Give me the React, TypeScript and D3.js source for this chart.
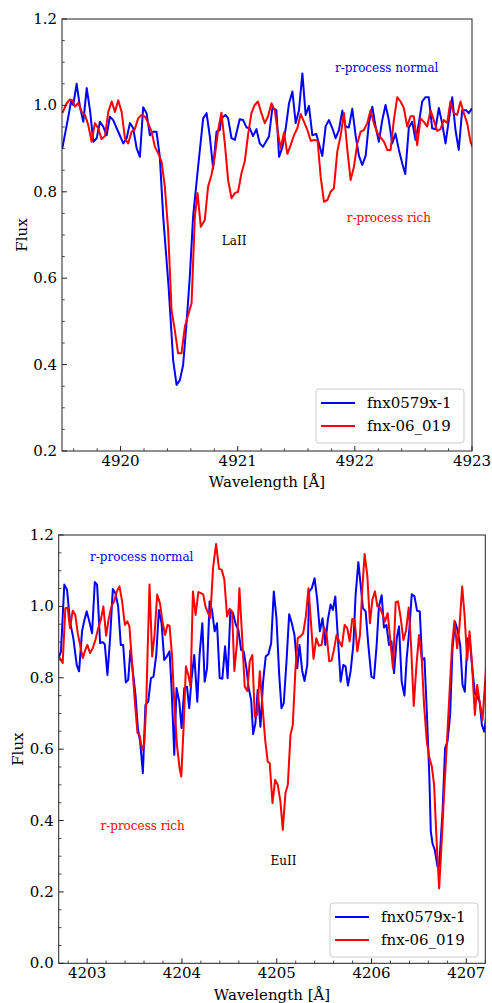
import React from "react";
import * as d3 from "d3";

// ---- La II region (4919.5 - 4923 Å) ----
const laBlueWave = [4919.503, 4919.554, 4919.577, 4919.596, 4919.625, 4919.653, 4919.682, 4919.711, 4919.739, 4919.767, 4919.796, 4919.824, 4919.852, 4919.881, 4919.909, 4919.937, 4919.980, 4920.023, 4920.052, 4920.080, 4920.108, 4920.137, 4920.165, 4920.193, 4920.222, 4920.250, 4920.278, 4920.307, 4920.335, 4920.364, 4920.410, 4920.449, 4920.478, 4920.506, 4920.534, 4920.563, 4920.591, 4920.619, 4920.662, 4920.705, 4920.734, 4920.762, 4920.790, 4920.819, 4920.847, 4920.861, 4920.896, 4920.918, 4920.947, 4920.975, 4921.017, 4921.046, 4921.075, 4921.103, 4921.131, 4921.160, 4921.188, 4921.216, 4921.267, 4921.296, 4921.330, 4921.353, 4921.382, 4921.410, 4921.438, 4921.467, 4921.495, 4921.523, 4921.552, 4921.580, 4921.608, 4921.637, 4921.671, 4921.722, 4921.751, 4921.779, 4921.808, 4921.836, 4921.864, 4921.893, 4921.921, 4921.949, 4921.978, 4922.006, 4922.035, 4922.063, 4922.092, 4922.120, 4922.149, 4922.177, 4922.205, 4922.234, 4922.262, 4922.290, 4922.319, 4922.347, 4922.376, 4922.404, 4922.430, 4922.461, 4922.490, 4922.518, 4922.546, 4922.575, 4922.603, 4922.631, 4922.660, 4922.688, 4922.717, 4922.745, 4922.774, 4922.802, 4922.831, 4922.859, 4922.887, 4922.916, 4922.950, 4922.972, 4923.001];
const laBlueFlux = [0.901, 0.974, 1.009, 1.001, 1.050, 0.997, 0.962, 1.040, 0.989, 0.916, 0.924, 0.962, 0.951, 0.931, 0.974, 0.966, 0.939, 0.912, 0.924, 0.959, 0.947, 0.901, 0.881, 0.996, 0.982, 0.931, 0.939, 0.939, 0.881, 0.742, 0.580, 0.410, 0.353, 0.364, 0.399, 0.496, 0.603, 0.742, 0.858, 0.970, 0.982, 0.928, 0.854, 0.939, 0.943, 0.970, 0.978, 0.970, 0.924, 0.920, 0.968, 0.966, 0.949, 0.947, 0.929, 0.945, 0.912, 0.904, 0.928, 0.994, 0.989, 0.881, 0.904, 0.947, 1.005, 1.032, 0.959, 0.989, 1.074, 0.978, 0.999, 0.931, 0.934, 0.883, 0.952, 0.966, 0.947, 0.924, 0.943, 0.988, 0.951, 0.949, 0.992, 0.931, 0.883, 0.862, 0.883, 0.959, 0.997, 0.951, 0.916, 0.966, 1.001, 0.966, 0.912, 0.935, 0.897, 0.866, 0.841, 0.949, 0.962, 0.920, 0.959, 1.009, 1.019, 1.019, 0.947, 0.945, 0.994, 0.959, 0.912, 0.966, 1.019, 0.943, 0.897, 0.989, 0.989, 0.982, 0.994];

const laRedWave = [4919.503, 4919.540, 4919.568, 4919.588, 4919.611, 4919.639, 4919.668, 4919.696, 4919.724, 4919.753, 4919.781, 4919.809, 4919.838, 4919.867, 4919.895, 4919.924, 4919.952, 4919.980, 4920.009, 4920.037, 4920.065, 4920.094, 4920.122, 4920.150, 4920.179, 4920.208, 4920.236, 4920.265, 4920.293, 4920.321, 4920.350, 4920.378, 4920.406, 4920.435, 4920.463, 4920.491, 4920.520, 4920.549, 4920.577, 4920.606, 4920.634, 4920.657, 4920.685, 4920.719, 4920.747, 4920.776, 4920.804, 4920.833, 4920.861, 4920.890, 4920.918, 4920.947, 4920.975, 4921.003, 4921.032, 4921.060, 4921.088, 4921.117, 4921.145, 4921.173, 4921.202, 4921.231, 4921.259, 4921.288, 4921.316, 4921.344, 4921.367, 4921.395, 4921.424, 4921.452, 4921.480, 4921.509, 4921.538, 4921.566, 4921.595, 4921.623, 4921.657, 4921.682, 4921.708, 4921.736, 4921.765, 4921.793, 4921.821, 4921.850, 4921.879, 4921.907, 4921.936, 4921.964, 4921.992, 4922.021, 4922.049, 4922.077, 4922.106, 4922.134, 4922.162, 4922.191, 4922.220, 4922.248, 4922.277, 4922.305, 4922.333, 4922.362, 4922.390, 4922.418, 4922.447, 4922.475, 4922.503, 4922.532, 4922.561, 4922.589, 4922.618, 4922.646, 4922.674, 4922.703, 4922.731, 4922.759, 4922.788, 4922.816, 4922.844, 4922.873, 4922.902, 4922.930, 4922.959, 4922.987, 4923.010];
const laRedFlux = [0.982, 1.005, 1.014, 1.012, 0.997, 1.006, 0.985, 0.978, 0.955, 0.916, 0.959, 0.947, 0.922, 0.929, 0.985, 1.009, 0.985, 1.012, 0.985, 0.924, 0.912, 0.939, 0.945, 0.970, 0.978, 0.974, 0.959, 0.939, 0.904, 0.889, 0.870, 0.812, 0.712, 0.526, 0.480, 0.426, 0.426, 0.488, 0.515, 0.542, 0.742, 0.797, 0.719, 0.735, 0.812, 0.839, 0.881, 0.943, 0.983, 0.912, 0.827, 0.785, 0.797, 0.800, 0.843, 0.870, 0.931, 0.982, 1.001, 1.009, 0.982, 0.959, 0.975, 1.005, 0.989, 0.935, 0.901, 0.937, 0.888, 0.908, 0.931, 0.947, 0.980, 0.962, 0.943, 0.918, 0.920, 0.918, 0.835, 0.777, 0.781, 0.800, 0.808, 0.893, 0.931, 0.982, 0.897, 0.827, 0.858, 0.912, 0.939, 0.943, 0.959, 0.989, 0.959, 0.937, 0.926, 0.916, 0.897, 0.897, 0.966, 1.019, 1.009, 0.994, 0.951, 0.975, 0.975, 0.908, 0.970, 0.962, 0.951, 0.989, 0.966, 0.941, 0.945, 0.966, 0.959, 1.009, 0.982, 0.978, 1.009, 0.982, 0.959, 0.916, 0.900];

// ---- Eu II region (4202.7 - 4207.2 Å) ----
const euBlueWave = [4202.700, 4202.724, 4202.759, 4202.788, 4202.819, 4202.854, 4202.890, 4202.915, 4202.946, 4202.971, 4202.996, 4203.023, 4203.052, 4203.081, 4203.105, 4203.137, 4203.165, 4203.186, 4203.214, 4203.242, 4203.271, 4203.298, 4203.327, 4203.355, 4203.380, 4203.408, 4203.433, 4203.457, 4203.510, 4203.535, 4203.559, 4203.588, 4203.615, 4203.644, 4203.673, 4203.700, 4203.729, 4203.757, 4203.785, 4203.813, 4203.842, 4203.869, 4203.890, 4203.919, 4203.943, 4203.972, 4203.996, 4204.025, 4204.053, 4204.077, 4204.102, 4204.130, 4204.162, 4204.186, 4204.215, 4204.240, 4204.265, 4204.292, 4204.317, 4204.345, 4204.370, 4204.398, 4204.426, 4204.455, 4204.482, 4204.511, 4204.539, 4204.567, 4204.595, 4204.624, 4204.651, 4204.680, 4204.704, 4204.730, 4204.751, 4204.775, 4204.799, 4204.828, 4204.856, 4204.884, 4204.912, 4204.941, 4204.969, 4204.997, 4205.026, 4205.050, 4205.074, 4205.103, 4205.131, 4205.159, 4205.187, 4205.216, 4205.240, 4205.269, 4205.293, 4205.322, 4205.343, 4205.370, 4205.399, 4205.427, 4205.455, 4205.483, 4205.512, 4205.539, 4205.568, 4205.592, 4205.618, 4205.645, 4205.674, 4205.702, 4205.726, 4205.751, 4205.779, 4205.808, 4205.832, 4205.861, 4205.885, 4205.909, 4205.938, 4205.966, 4205.998, 4206.026, 4206.054, 4206.078, 4206.107, 4206.131, 4206.157, 4206.184, 4206.210, 4206.237, 4206.266, 4206.290, 4206.318, 4206.347, 4206.371, 4206.400, 4206.424, 4206.453, 4206.480, 4206.509, 4206.533, 4206.558, 4206.583, 4206.610, 4206.625, 4206.643, 4206.667, 4206.696, 4206.713, 4206.749, 4206.776, 4206.801, 4206.829, 4206.854, 4206.882, 4206.907, 4206.935, 4206.960, 4206.984, 4207.013, 4207.037, 4207.066, 4207.090, 4207.114, 4207.140, 4207.164, 4207.188, 4207.210];
const euBlueFlux = [0.855, 0.874, 1.061, 1.047, 0.958, 0.911, 0.836, 0.818, 0.930, 0.962, 0.986, 0.958, 0.925, 1.068, 1.061, 0.897, 0.900, 0.894, 0.808, 0.911, 1.049, 1.037, 1.000, 0.892, 0.892, 0.787, 0.794, 0.878, 0.752, 0.659, 0.621, 0.533, 0.724, 0.733, 0.799, 0.803, 0.864, 0.990, 0.953, 0.850, 0.860, 0.874, 0.775, 0.584, 0.771, 0.733, 0.659, 0.771, 0.775, 0.715, 0.799, 0.864, 0.733, 0.864, 0.953, 0.789, 0.827, 1.014, 0.990, 0.930, 0.953, 0.799, 0.797, 0.888, 0.799, 0.986, 0.981, 0.950, 0.934, 0.878, 0.874, 0.827, 0.771, 0.738, 0.642, 0.673, 0.766, 0.663, 0.789, 0.860, 0.866, 0.897, 1.042, 0.967, 0.808, 0.715, 0.729, 0.846, 0.978, 0.953, 0.920, 0.827, 0.892, 0.818, 0.791, 0.836, 1.042, 1.051, 1.079, 1.019, 0.930, 0.967, 0.892, 0.962, 1.005, 0.990, 1.028, 0.911, 0.789, 0.836, 0.832, 0.778, 0.818, 0.892, 1.033, 1.124, 1.061, 0.995, 0.986, 0.892, 0.803, 0.799, 0.892, 1.000, 1.031, 0.941, 0.948, 0.892, 0.902, 0.813, 0.911, 0.944, 0.789, 0.750, 0.855, 0.939, 1.034, 1.028, 0.988, 0.986, 0.850, 0.855, 0.705, 0.520, 0.370, 0.336, 0.318, 0.271, 0.271, 0.425, 0.603, 0.621, 0.696, 0.883, 0.956, 0.934, 0.892, 0.780, 0.761, 0.911, 0.902, 0.818, 0.757, 0.747, 0.733, 0.668, 0.649, 0.691];

const euRedWave = [4202.700, 4202.724, 4202.742, 4202.770, 4202.795, 4202.819, 4202.848, 4202.875, 4202.901, 4202.925, 4202.954, 4202.975, 4203.002, 4203.031, 4203.059, 4203.087, 4203.115, 4203.144, 4203.171, 4203.200, 4203.229, 4203.256, 4203.285, 4203.313, 4203.341, 4203.369, 4203.398, 4203.425, 4203.446, 4203.475, 4203.503, 4203.531, 4203.552, 4203.581, 4203.602, 4203.623, 4203.637, 4203.658, 4203.686, 4203.711, 4203.739, 4203.768, 4203.795, 4203.821, 4203.848, 4203.869, 4203.895, 4203.919, 4203.947, 4203.975, 4203.993, 4204.017, 4204.042, 4204.067, 4204.091, 4204.116, 4204.144, 4204.173, 4204.201, 4204.225, 4204.248, 4204.271, 4204.299, 4204.328, 4204.360, 4204.391, 4204.419, 4204.447, 4204.476, 4204.503, 4204.529, 4204.553, 4204.582, 4204.606, 4204.634, 4204.662, 4204.690, 4204.715, 4204.743, 4204.768, 4204.793, 4204.821, 4204.849, 4204.878, 4204.905, 4204.926, 4204.955, 4204.983, 4205.011, 4205.039, 4205.064, 4205.092, 4205.117, 4205.145, 4205.169, 4205.198, 4205.222, 4205.251, 4205.279, 4205.307, 4205.335, 4205.364, 4205.388, 4205.417, 4205.444, 4205.473, 4205.501, 4205.526, 4205.554, 4205.578, 4205.603, 4205.631, 4205.660, 4205.687, 4205.716, 4205.744, 4205.769, 4205.797, 4205.822, 4205.850, 4205.878, 4205.903, 4205.927, 4205.956, 4205.983, 4206.009, 4206.036, 4206.062, 4206.089, 4206.118, 4206.142, 4206.170, 4206.199, 4206.226, 4206.255, 4206.279, 4206.308, 4206.336, 4206.364, 4206.392, 4206.417, 4206.445, 4206.474, 4206.501, 4206.530, 4206.554, 4206.583, 4206.611, 4206.636, 4206.660, 4206.685, 4206.713, 4206.742, 4206.766, 4206.794, 4206.823, 4206.850, 4206.875, 4206.903, 4206.928, 4206.956, 4206.981, 4207.009, 4207.034, 4207.058, 4207.090, 4207.114, 4207.140, 4207.171, 4207.196, 4207.214];
const euRedFlux = [0.860, 0.850, 0.841, 0.995, 0.997, 0.939, 0.988, 0.976, 0.925, 0.892, 0.855, 0.874, 0.892, 0.869, 0.883, 0.906, 0.937, 0.962, 1.000, 0.918, 0.967, 1.000, 1.014, 1.042, 1.056, 1.014, 0.948, 0.958, 0.944, 0.836, 0.733, 0.645, 0.640, 0.598, 0.612, 0.724, 0.864, 1.061, 0.860, 0.920, 1.033, 1.009, 0.958, 0.920, 0.948, 0.946, 0.864, 0.733, 0.612, 0.547, 0.523, 0.659, 0.832, 0.808, 0.775, 1.042, 0.976, 1.040, 1.037, 1.033, 1.000, 0.984, 0.967, 1.107, 1.175, 1.105, 1.103, 1.075, 0.972, 0.993, 0.986, 0.819, 0.902, 1.051, 0.920, 0.775, 0.763, 0.846, 0.864, 0.691, 0.696, 0.818, 0.724, 0.626, 0.565, 0.561, 0.449, 0.514, 0.500, 0.453, 0.374, 0.477, 0.500, 0.640, 0.668, 0.827, 0.911, 0.916, 0.925, 0.972, 1.051, 0.944, 0.853, 0.911, 0.890, 0.892, 0.941, 0.920, 0.846, 0.848, 0.878, 0.920, 0.902, 0.888, 0.948, 0.939, 0.902, 0.965, 0.962, 0.874, 0.920, 1.051, 1.147, 1.084, 0.953, 1.019, 1.042, 1.000, 0.997, 0.976, 0.958, 0.981, 0.902, 0.827, 1.012, 1.014, 0.967, 0.906, 0.932, 0.997, 0.892, 0.721, 0.836, 0.920, 0.850, 0.724, 0.621, 0.575, 0.551, 0.500, 0.350, 0.210, 0.350, 0.481, 0.612, 0.761, 0.892, 0.960, 0.883, 0.944, 1.056, 0.976, 0.850, 0.930, 0.846, 0.696, 0.780, 0.733, 0.682, 0.780, 0.850];

const seriesNames = ["fnx0579x-1", "fnx-06_019"];
const seriesColors = ["#0000ff", "#ff0000"];

const laXTicks = [4920, 4921, 4922, 4923];
const laYTicks = [0.2, 0.4, 0.6, 0.8, 1.0, 1.2];
const euXTicks = [4203, 4204, 4205, 4206, 4207];
const euYTicks = [0.0, 0.2, 0.4, 0.6, 0.8, 1.0, 1.2];

const FONT = "'DejaVu Serif', serif";

type Note = { text: string; x: number; y: number; color: string };

type PanelProps = {
  id: string;
  left: number;
  right: number;
  top: number;
  bottom: number;
  xDomain: [number, number];
  yDomain: [number, number];
  xTicks: number[];
  yTicks: number[];
  series: { wave: number[]; flux: number[] }[];
  notes: Note[];
  legend: { x: number; y: number };
  xLabelY: number;
  yLabelX: number;
};

function range(a: number, b: number, step: number) {
  const out: number[] = [];
  const n = Math.round((b - a) / step);
  for (let i = 0; i <= n; i++) out.push(+(a + i * step).toFixed(4));
  return out;
}

function Panel(p: PanelProps) {
  const x = d3.scaleLinear().domain(p.xDomain).range([p.left, p.right]);
  const y = d3.scaleLinear().domain(p.yDomain).range([p.bottom, p.top]);
  const line = d3
    .line<[number, number]>()
    .x((d) => x(d[0]))
    .y((d) => y(d[1]));

  const xMinor = range(Math.ceil(p.xDomain[0] * 5) / 5, Math.floor(p.xDomain[1] * 5) / 5, 0.2).filter(
    (v) => Math.abs(v - Math.round(v)) > 1e-6
  );
  const yMinor = range(p.yDomain[0], p.yDomain[1], 0.05).filter(
    (v) => !p.yTicks.some((t) => Math.abs(t - v) < 1e-6)
  );

  const axisColor = "#222";
  const major = 5;
  const minor = 2.8;
  const lg = p.legend;

  return (
    <g>
      <defs>
        <clipPath id={`clip-${p.id}`}>
          <rect x={p.left} y={p.top} width={p.right - p.left} height={p.bottom - p.top} />
        </clipPath>
      </defs>
      <g clipPath={`url(#clip-${p.id})`}>
        {p.series.map((s, i) => (
          <path
            key={i}
            d={line(s.wave.map((w, k) => [w, s.flux[k]] as [number, number])) || ""}
            fill="none"
            stroke={seriesColors[i]}
            strokeWidth={2}
            strokeLinejoin="round"
          />
        ))}
      </g>
      {p.notes.map((n, i) => (
        <text key={i} x={x(n.x)} y={y(n.y)} fill={n.color} fontFamily={FONT} fontSize={12}>
          {n.text}
        </text>
      ))}
      {/* ticks, pointing inward */}
      {p.xTicks.map((t) => (
        <g key={`xt${t}`}>
          <line x1={x(t)} x2={x(t)} y1={p.bottom} y2={p.bottom - major} stroke={axisColor} strokeWidth={1} />
          <text x={x(t)} y={p.bottom + 15} textAnchor="middle" fontFamily={FONT} fontSize={15} fill="#000">
            {t}
          </text>
        </g>
      ))}
      {xMinor.map((t) => (
        <line key={`xm${t}`} x1={x(t)} x2={x(t)} y1={p.bottom} y2={p.bottom - minor} stroke={axisColor} strokeWidth={0.8} />
      ))}
      {p.yTicks.map((t) => (
        <g key={`yt${t}`}>
          <line x1={p.left} x2={p.left + major} y1={y(t)} y2={y(t)} stroke={axisColor} strokeWidth={1} />
          <text x={p.left - 5} y={y(t) + 5} textAnchor="end" fontFamily={FONT} fontSize={15} fill="#000">
            {t.toFixed(1)}
          </text>
        </g>
      ))}
      {yMinor.map((t) => (
        <line key={`ym${t}`} x1={p.left} x2={p.left + minor} y1={y(t)} y2={y(t)} stroke={axisColor} strokeWidth={0.8} />
      ))}
      <rect
        x={p.left}
        y={p.top}
        width={p.right - p.left}
        height={p.bottom - p.top}
        fill="none"
        stroke={axisColor}
        strokeWidth={1}
      />
      {/* legend */}
      <rect x={lg.x} y={lg.y} width={148} height={54} rx={3} fill="#fff" fillOpacity={0.8} stroke="#cccccc" strokeWidth={1} />
      {seriesNames.map((name, i) => (
        <g key={name}>
          <line
            x1={lg.x + 5}
            x2={lg.x + 39}
            y1={lg.y + 14 + i * 23}
            y2={lg.y + 14 + i * 23}
            stroke={seriesColors[i]}
            strokeWidth={2}
          />
          <text x={lg.x + 51} y={lg.y + 19 + i * 23} fontFamily={FONT} fontSize={15} fill="#000">
            {name}
          </text>
        </g>
      ))}
      <text x={(p.left + p.right) / 2} y={p.xLabelY} textAnchor="middle" fontFamily={FONT} fontSize={15} fill="#000">
        Wavelength [Å]
      </text>
      <text
        transform={`translate(${p.yLabelX},${(p.top + p.bottom) / 2}) rotate(-90)`}
        textAnchor="middle"
        fontFamily={FONT}
        fontSize={15}
        fill="#000"
      >
        Flux
      </text>
    </g>
  );
}

export default function App() {
  return (
    <svg width={492} height={1003} style={{ position: "absolute", left: 0, top: 0, background: "#fff" }}>
      <rect width={492} height={1003} fill="#fff" />
      <Panel
        id="la"
        left={62}
        right={472}
        top={19}
        bottom={451}
        xDomain={[4919.5, 4923]}
        yDomain={[0.2, 1.2]}
        xTicks={laXTicks}
        yTicks={laYTicks}
        series={[
          { wave: laBlueWave, flux: laBlueFlux },
          { wave: laRedWave, flux: laRedFlux },
        ]}
        notes={[
          { text: "r-process normal", x: 4921.83, y: 1.077, color: "#0000ff" },
          { text: "r-process rich", x: 4921.93, y: 0.73, color: "#ff0000" },
          { text: "LaII", x: 4920.864, y: 0.677, color: "#000" },
        ]}
        legend={{ x: 316, y: 389 }}
        xLabelY={487}
        yLabelX={27}
      />
      <Panel
        id="eu"
        left={58.7}
        right={485.3}
        top={535}
        bottom={963.3}
        xDomain={[4202.7, 4207.2]}
        yDomain={[0, 1.2]}
        xTicks={euXTicks}
        yTicks={euYTicks}
        series={[
          { wave: euBlueWave, flux: euBlueFlux },
          { wave: euRedWave, flux: euRedFlux },
        ]}
        notes={[
          { text: "r-process normal", x: 4203.03, y: 1.128, color: "#0000ff" },
          { text: "r-process rich", x: 4203.14, y: 0.374, color: "#ff0000" },
          { text: "EuII", x: 4204.934, y: 0.276, color: "#000" },
        ]}
        legend={{ x: 330, y: 903 }}
        xLabelY={1000}
        yLabelX={23}
      />
    </svg>
  );
}
